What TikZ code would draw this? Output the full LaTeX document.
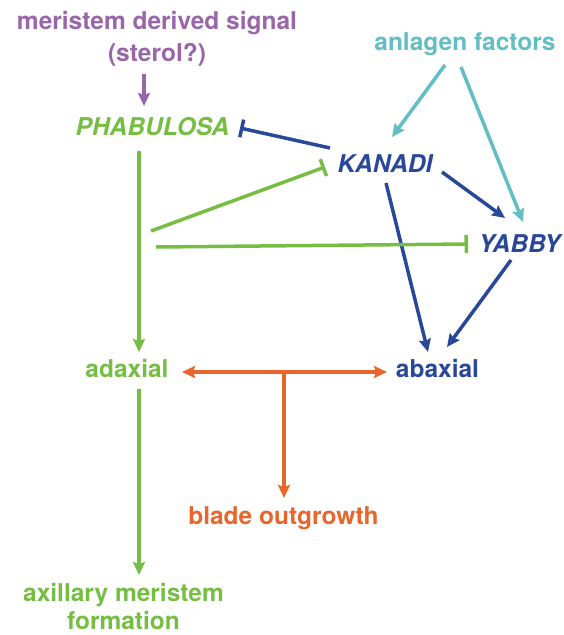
\documentclass[tikz,border=0pt]{standalone}
\usepackage{fontspec}
\setmainfont{TeX Gyre Heros}
\usetikzlibrary{arrows.meta,calc}
\definecolor{cpurple}{RGB}{153,102,170}
\definecolor{cgreen}{RGB}{118,190,67}
\definecolor{cblue}{RGB}{42,72,153}
\definecolor{ccyan}{RGB}{98,190,196}
\definecolor{corange}{RGB}{232,101,43}
\tikzset{
  lbl/.style={inner sep=0pt, outer sep=0pt, align=center,
    font=\fontsize{24.5}{32}\selectfont\bfseries},
  gene/.style={lbl, font=\fontsize{24.5}{32}\selectfont\bfseries\itshape},
  conn/.style={line width=3.5pt},
  tip/.tip={Stealth[length=13pt,width=12pt,inset=2pt]},
  act/.style={conn, -tip},
  actboth/.style={conn, tip-tip},
  inh/.style={conn, -{Bar[width=18pt]}},
}
\begin{document}
\begin{tikzpicture}[x=1pt,y=-1pt]
\useasboundingbox (0,0) rectangle (563,635);
% labels
\node[lbl, text=cpurple, anchor=north] (sig) at (157,11.5) {meristem derived signal\\(sterol?)};
\node[gene, text=cgreen, anchor=base] (phab) at (152.5,135) {PHABULOSA};
\node[gene, text=cblue, anchor=base] (kan) at (385,172) {KANADI};
\node[lbl, text=ccyan, anchor=base] (anl) at (465,50) {anlagen factors};
\node[gene, text=cblue, anchor=base] (yab) at (519.5,252) {YABBY};
\node[lbl, text=cgreen, anchor=base] (adax) at (127,377) {adaxial};
\node[lbl, text=cblue, anchor=base] (abax) at (437.5,377) {abaxial};
\node[lbl, text=corange, anchor=base] (blade) at (283.5,524) {blade outgrowth};
\node[lbl, text=cgreen, anchor=north, font=\fontsize{24.5}{28}\selectfont\bfseries] (axil) at (123.5,583) {axillary meristem\\formation};
\coordinate (jn) at ($(adax.base)+(157,-5)$);
% connectors
\draw[act, cpurple] ($(sig.north)+(-13,62.5)$) -- ($(phab.base)+(-8.5,-29)$);
\draw[inh, cblue] ($(kan.base)+(-55,-24)$) -- ($(phab.base)+(87.5,-7)$);
\draw[act, ccyan] ($(anl.base)+(-20,15)$) -- ($(kan.base)+(7,-35)$);
\draw[act, ccyan] ($(anl.base)+(-4,17)$) -- ($(yab.base)+(3.5,-30)$);
\draw[act, cblue] ($(kan.base)+(57,0)$) -- ($(yab.base)+(-14.5,-34)$);
\draw[act, cblue] ($(kan.base)+(1,11)$) -- ($(abax.base)+(-9.5,-25)$);
\draw[act, cblue] ($(yab.base)+(-8.5,8)$) -- ($(abax.base)+(9.5,-30)$);
\draw[act, cgreen] ($(phab.base)+(-13.5,16)$) -- ($(adax.base)+(12,-25)$);
\draw[inh, cgreen] ($(phab.base)+(-1.5,96)$) -- ($(kan.base)+(-60,-5)$);
\draw[inh, cgreen] ($(phab.base)+(3.5,112)$) -- ($(yab.base)+(-51.5,-8)$);
\draw[actboth, corange] ($(adax.base)+(55,-5)$) -- ($(abax.base)+(-50.5,-5)$);
\draw[act, corange] (jn) -- ($(blade.base)+(0.5,-26)$);
\draw[act, cgreen] ($(adax.base)+(12,12)$) -- ($(axil.north)+(15.5,-8)$);
\end{tikzpicture}
\end{document}
